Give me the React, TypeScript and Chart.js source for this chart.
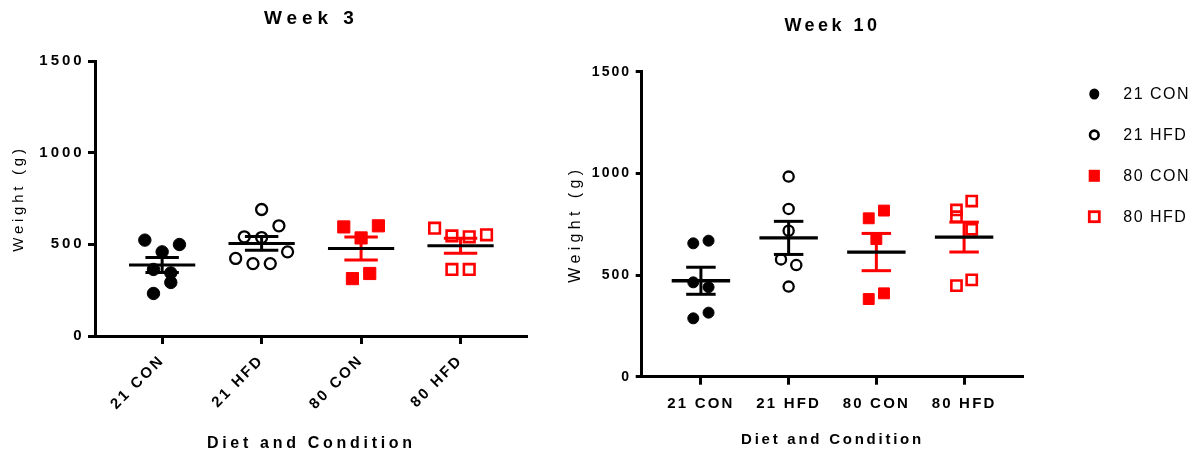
import React, { useEffect, useRef } from 'react';
import { Chart, registerables } from 'chart.js';

Chart.register(...registerables);

// ---------------- data ----------------
const categories = ['21 CON', '21 HFD', '80 CON', '80 HFD'];
const yTickValues = [0, 500, 1000, 1500];

// Week 3 body weight (g), one value per animal
const week3Con21 = [523, 459, 499, 363, 344, 232, 292];
const week3Hfd21 = [690, 541, 537, 601, 423, 395, 395, 459];
const week3Con80 = [595, 535, 601, 313, 341];
const week3Hfd80 = [588, 546, 541, 552, 363, 363];

// Week 10 body weight (g)
const week10Con21 = [656, 669, 464, 440, 287, 315];
const week10Hfd21 = [984, 825, 718, 577, 549, 443];
const week10Con80 = [779, 817, 677, 382, 410];
const week10Hfd80 = [820, 864, 787, 725, 448, 476];

// ---------------- styling / layout ----------------
const FONT = "'Liberation Sans', Arial, Helvetica, sans-serif";
const ROW_SPAN = 68; // values closer than this share a swarm row
const HALF_SLOT = 0.087; // half point spacing in category units
const MEAN_HALF = 0.333;
const CAP_HALF = 0.168;

type GroupStyle = { shape: 'circle' | 'rect'; open: boolean; color: string; err: string };
const groupStyles: GroupStyle[] = [
  { shape: 'circle', open: false, color: '#000000', err: '#000000' },
  { shape: 'circle', open: true, color: '#000000', err: '#000000' },
  { shape: 'rect', open: false, color: '#ff0000', err: '#ff0000' },
  { shape: 'rect', open: true, color: '#ff0000', err: '#ff0000' },
];

type PanelCfg = {
  title: string;
  groups: number[][];
  left: number;
  width: number;
  padRight: number;
  titleFont: number; titleLs: number; titlePad: { top: number; bottom: number };
  yAxisWidth: number; yTickFont: number; yTickLs: number; yTickLen: number; yTickPad: number;
  yTitleFont: number; yTitleLs: number; yTitlePad: number;
  xAxisHeight: number; xTickFont: number; xTickLs: number; xTickLen: number; xTickPad: number; rotation: number;
  xTitleFont: number; xTitleLs: number; xTitlePad: number;
  sizes: { circle: number; openCircle: number; rect: number; openRect: number };
  meanWidth: number; errWidth: number;
  legend: boolean;
};

const leftPanel: PanelCfg = {
  title: 'Week 3',
  groups: [week3Con21, week3Hfd21, week3Con80, week3Hfd80],
  left: 0, width: 560, padRight: 32.3,
  titleFont: 19, titleLs: 4.9, titlePad: { top: 7.6, bottom: 30.6 },
  yAxisWidth: 95, yTickFont: 15, yTickLs: 3, yTickLen: 7, yTickPad: 3.3,
  yTitleFont: 15, yTitleLs: 3.75, yTitlePad: 10,
  xAxisHeight: 120, xTickFont: 15, xTickLs: 2.5, xTickLen: 8, xTickPad: 7.5, rotation: 45,
  xTitleFont: 16, xTitleLs: 3.7, xTitlePad: 2.7,
  sizes: { circle: 6.2, openCircle: 5.5, rect: 8.6, openRect: 7.5 },
  meanWidth: 3, errWidth: 3,
  legend: false,
};

const rightPanel: PanelCfg = {
  title: 'Week 10',
  groups: [week10Con21, week10Hfd21, week10Con80, week10Hfd80],
  left: 560, width: 640, padRight: 176.7,
  titleFont: 18, titleLs: 3.5, titlePad: { top: 14.9, bottom: 35.2 },
  yAxisWidth: 81.7, yTickFont: 14, yTickLs: 2, yTickLen: 6, yTickPad: 4.7,
  yTitleFont: 16, yTitleLs: 4.35, yTitlePad: 6.2,
  xAxisHeight: 79.3, xTickFont: 15, xTickLs: 2.2, xTickLen: 8, xTickPad: 10.3, rotation: 0,
  xTitleFont: 15, xTitleLs: 2.75, xTitlePad: 7,
  sizes: { circle: 5.5, openCircle: 5.1, rect: 7.7, openRect: 7.2 },
  meanWidth: 3.3, errWidth: 3,
  legend: true,
};

// ---------------- helpers ----------------
function mean(v: number[]) {
  return v.reduce((a, b) => a + b, 0) / v.length;
}
function sem(v: number[]) {
  const m = mean(v);
  const ss = v.reduce((a, b) => a + (b - m) * (b - m), 0);
  return Math.sqrt(ss / (v.length - 1)) / Math.sqrt(v.length);
}

// simple row-based swarm layout: values close together are spread side by side
function swarmOffsets(values: number[]): number[] {
  const idx = values.map((_, i) => i).sort((a, b) => values[b] - values[a]);
  const rows: number[][] = [];
  let cur: number[] = [];
  let start = 0;
  idx.forEach((i) => {
    if (cur.length && start - values[i] < ROW_SPAN) cur.push(i);
    else {
      if (cur.length) rows.push(cur);
      cur = [i];
      start = values[i];
    }
  });
  if (cur.length) rows.push(cur);
  const off = new Array(values.length).fill(0);
  rows.forEach((r) => {
    r.sort((a, b) => a - b);
    r.forEach((i, k) => {
      off[i] = (k - (r.length - 1) / 2) * 2;
    });
  });
  return off;
}

function segment(x1: number, y1: number, x2: number, y2: number, color: string, width: number, order: number) {
  return {
    type: 'scatter' as const,
    data: [{ x: x1, y: y1 }, { x: x2, y: y2 }],
    showLine: true,
    borderColor: color,
    borderWidth: width,
    borderCapStyle: 'butt',
    pointRadius: 0,
    pointHoverRadius: 0,
    fill: false,
    clip: false,
    order,
  };
}

function buildDatasets(cfg: PanelCfg) {
  const ds: any[] = [];
  cfg.groups.forEach((vals, g) => {
    const c = g + 1;
    const st = groupStyles[g];
    const off = swarmOffsets(vals);
    const radius = st.shape === 'circle'
      ? (st.open ? cfg.sizes.openCircle : cfg.sizes.circle)
      : (st.open ? cfg.sizes.openRect : cfg.sizes.rect);
    const bw = st.open ? (st.shape === 'circle' ? 2.3 : 2.6) : 1;
    ds.push({
      type: 'scatter',
      label: categories[g],
      data: vals.map((v, i) => ({ x: c + off[i] * HALF_SLOT, y: v })),
      pointStyle: st.shape,
      pointRadius: radius,
      pointHoverRadius: radius,
      pointBorderWidth: bw,
      pointBackgroundColor: st.open ? 'rgba(255,255,255,0)' : st.color,
      pointBorderColor: st.color,
      backgroundColor: st.open ? 'rgba(255,255,255,0)' : st.color,
      borderColor: st.color,
      clip: false,
      order: 2,
    });
    const m = mean(vals);
    const e = sem(vals);
    ds.push(segment(c - MEAN_HALF, m, c + MEAN_HALF, m, '#000000', cfg.meanWidth, 0));
    ds.push(segment(c - CAP_HALF, m + e, c + CAP_HALF, m + e, st.err, cfg.errWidth, 1));
    ds.push(segment(c, m - e, c, m + e, st.err, cfg.errWidth, 1));
    ds.push(segment(c - CAP_HALF, m - e, c + CAP_HALF, m - e, st.err, cfg.errWidth, 1));
  });
  return ds;
}

function withSpacing(obj: any, method: string, px: number) {
  const key = '__ls_' + method;
  if (!obj || obj[key]) return;
  const orig = obj[method];
  if (typeof orig !== 'function') return;
  obj[method] = function (this: any, ...args: any[]) {
    const ctx = this.ctx as any;
    const prev = ctx.letterSpacing;
    ctx.letterSpacing = px + 'px';
    try {
      return orig.apply(this, args);
    } finally {
      ctx.letterSpacing = prev;
    }
  };
  obj[key] = true;
}

function drawMarker(ctx: CanvasRenderingContext2D, st: GroupStyle, x: number, y: number) {
  ctx.save();
  ctx.fillStyle = st.color;
  ctx.strokeStyle = st.color;
  if (st.shape === 'circle') {
    ctx.beginPath();
    if (st.open) {
      ctx.lineWidth = 2.6;
      ctx.arc(x, y, 4.3, 0, Math.PI * 2);
      ctx.stroke();
    } else {
      ctx.ellipse(x, y, 5, 5.6, 0, 0, Math.PI * 2);
      ctx.fill();
    }
  } else if (st.open) {
    ctx.lineWidth = 2.8;
    ctx.strokeRect(x - 5, y - 5, 10, 10);
  } else {
    ctx.fillRect(x - 5.6, y - 6, 11.2, 12);
  }
  ctx.restore();
}

function buildConfig(cfg: PanelCfg): any {
  const spacingPlugin = {
    id: 'letterSpacing',
    afterLayout(chart: any) {
      withSpacing(chart.titleBlock, 'draw', cfg.titleLs);
      withSpacing(chart.scales.x, 'drawLabels', cfg.xTickLs);
      withSpacing(chart.scales.x, 'drawTitle', cfg.xTitleLs);
      withSpacing(chart.scales.y, 'drawLabels', cfg.yTickLs);
      withSpacing(chart.scales.y, 'drawTitle', cfg.yTitleLs);
    },
  };
  const legendPlugin = {
    id: 'sideLegend',
    afterDraw(chart: any) {
      if (!cfg.legend) return;
      const ctx = chart.ctx as any;
      const area = chart.chartArea;
      ctx.save();
      ctx.letterSpacing = '1.5px';
      ctx.font = `16px ${FONT}`;
      ctx.textBaseline = 'middle';
      ctx.textAlign = 'left';
      ctx.fillStyle = '#000000';
      categories.forEach((name, i) => {
        const y = area.top + 22.3 + i * 40.9;
        drawMarker(ctx, groupStyles[i], area.right + 71, y);
        ctx.fillText(name, area.right + 100, y + 0.5);
      });
      ctx.restore();
    },
  };

  return {
    type: 'scatter',
    data: { datasets: buildDatasets(cfg) },
    plugins: [spacingPlugin, legendPlugin],
    options: {
      animation: false,
      responsive: false,
      events: [],
      layout: { padding: { left: 0, right: cfg.padRight, top: 0, bottom: 0 } },
      plugins: {
        legend: { display: false },
        tooltip: { enabled: false },
        title: {
          display: true,
          text: cfg.title,
          fullSize: false,
          color: '#000000',
          font: { family: FONT, size: cfg.titleFont, weight: 'bold', lineHeight: 1.2 },
          padding: cfg.titlePad,
        },
      },
      scales: {
        x: {
          type: 'linear',
          min: 0.325,
          max: 4.675,
          afterBuildTicks: (axis: any) => {
            axis.ticks = categories.map((_, i) => ({ value: i + 1 }));
          },
          afterFit: (axis: any) => {
            axis.height = cfg.xAxisHeight;
          },
          ticks: {
            autoSkip: false,
            minRotation: cfg.rotation,
            maxRotation: cfg.rotation,
            padding: cfg.xTickPad,
            color: '#000000',
            font: { family: FONT, size: cfg.xTickFont, weight: 'bold', lineHeight: 1.2 },
            callback: (v: any) => categories[Math.round(Number(v)) - 1] ?? '',
          },
          grid: {
            display: true,
            drawOnChartArea: false,
            drawTicks: true,
            tickLength: cfg.xTickLen,
            tickWidth: 3,
            tickColor: '#000000',
          },
          border: { display: true, color: '#000000', width: 3 },
          title: {
            display: true,
            text: 'Diet and Condition',
            color: '#000000',
            font: { family: FONT, size: cfg.xTitleFont, weight: 'bold', lineHeight: 1.2 },
            padding: { top: 0, bottom: cfg.xTitlePad },
          },
        },
        y: {
          type: 'linear',
          min: 0,
          max: 1500,
          afterBuildTicks: (axis: any) => {
            axis.ticks = yTickValues.map((v) => ({ value: v }));
          },
          afterFit: (axis: any) => {
            axis.width = cfg.yAxisWidth;
          },
          ticks: {
            padding: cfg.yTickPad,
            color: '#000000',
            font: { family: FONT, size: cfg.yTickFont, weight: 'bold', lineHeight: 1.2 },
            callback: (v: any) => String(v),
          },
          grid: {
            display: true,
            drawOnChartArea: false,
            drawTicks: true,
            tickLength: cfg.yTickLen,
            tickWidth: 3,
            tickColor: '#000000',
          },
          border: { display: true, color: '#000000', width: 3 },
          title: {
            display: true,
            text: 'Weight (g)',
            color: '#000000',
            font: { family: FONT, size: cfg.yTitleFont, weight: 'normal', lineHeight: 1.2 },
            padding: { top: cfg.yTitlePad, bottom: 0 },
          },
        },
      },
    },
  };
}

function Panel({ cfg }: { cfg: PanelCfg }) {
  const ref = useRef<HTMLCanvasElement>(null);
  useEffect(() => {
    if (!ref.current) return;
    const chart = new Chart(ref.current, buildConfig(cfg));
    return () => chart.destroy();
  }, [cfg]);
  return (
    <canvas
      ref={ref}
      width={cfg.width}
      height={456}
      style={{ position: 'absolute', left: cfg.left, top: 0, width: cfg.width, height: 456 }}
    />
  );
}

export default function App() {
  return (
    <div
      style={{
        position: 'fixed',
        left: 0,
        top: 0,
        width: 1200,
        height: 456,
        background: '#ffffff',
        overflow: 'hidden',
      }}
    >
      <Panel cfg={leftPanel} />
      <Panel cfg={rightPanel} />
    </div>
  );
}
